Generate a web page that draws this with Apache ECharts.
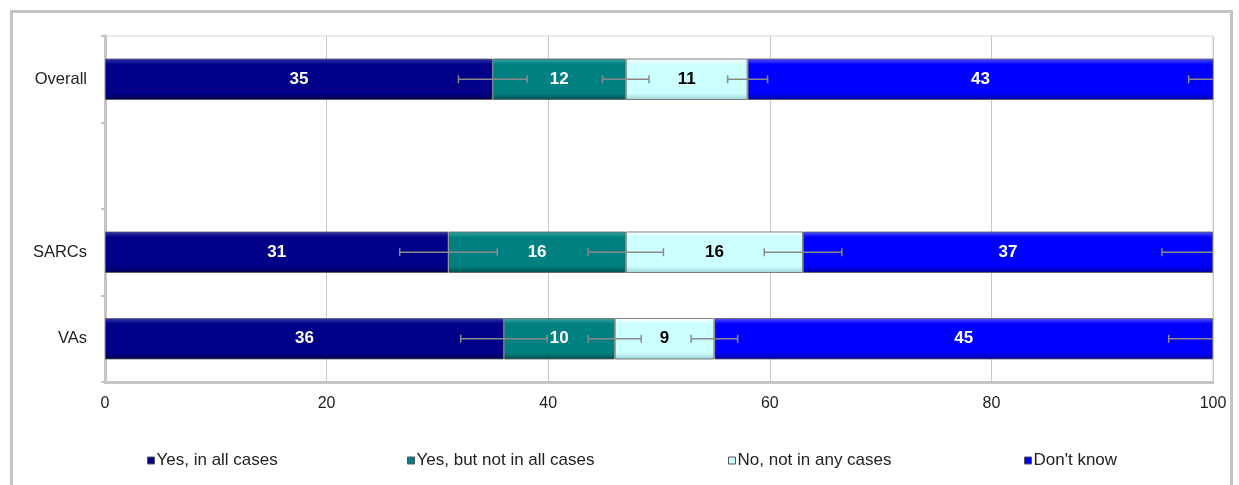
<!DOCTYPE html>
<html>
<head>
<meta charset="utf-8">
<script src="https://cdn.jsdelivr.net/npm/echarts@6/dist/echarts.min.js"></script>
<style>
html,body{margin:0;padding:0;background:#fff;}
#c{width:1239px;height:485px;}
</style>
</head>
<body>
<div id="c"></div>
<script>
const categories = ['Overall', '', 'SARCs', 'VAs'];
const seriesNames = ['Yes, in all cases', 'Yes, but not in all cases', 'No, not in any cases', "Don't know"];
const yesAll   = [35, null, 31, 36];
const yesSome  = [12, null, 16, 10];
const noCases  = [11, null, 16, 9];
const dontKnow = [43, null, 37, 45];
const errYesAll   = [3.1, null, 4.4, 3.9];
const errYesSome  = [2.1, null, 3.4, 2.4];
const errNoCases  = [1.8, null, 3.5, 2.1];
const errDontKnow = [3.2, null, 4.6, 4.0];
const xTicks = [0, 20, 40, 60, 80, 100];

const values = [yesAll, yesSome, noCases, dontKnow];
const errs = [errYesAll, errYesSome, errNoCases, errDontKnow];
const FONT = 'Liberation Sans, Arial, sans-serif';

function grad(top, base, bottom) {
  return new echarts.graphic.LinearGradient(0, 0, 0, 1, [
    {offset: 0, color: top},
    {offset: 0.14, color: base},
    {offset: 0.84, color: base},
    {offset: 1, color: bottom}
  ]);
}
const fills = [
  grad('#3a3ab0', '#000088', '#00004a'),
  grad('#3fa8a8', '#008080', '#004d4d'),
  grad('#ffffff', '#ccffff', '#9ccfcf'),
  grad('#5a5aff', '#0000ff', '#00009a')
];
const legendColors = ['#000080', '#008080', '#ccffff', '#0000ff'];
const labelColors = ['#fff', '#fff', '#000', '#fff'];

const series = [];
values.forEach((vals, i) => {
  series.push({
    name: seriesNames[i],
    type: 'bar',
    stack: 'total',
    barWidth: '48%',
    data: vals,
    itemStyle: {color: fills[i], borderColor: 'rgba(90,90,90,0.75)', borderWidth: 1},
    label: {
      show: true, position: 'inside', color: labelColors[i],
      fontFamily: FONT, fontWeight: 'bold', fontSize: 17
    },
    emphasis: {disabled: true}
  });
});

// error bars
values.forEach((vals, i) => {
  const data = [];
  vals.forEach((v, c) => {
    if (v == null) return;
    let cum = 0;
    for (let k = 0; k <= i; k++) cum += values[k][c];
    data.push([cum, c, errs[i][c]]);
  });
  series.push({
    type: 'custom',
    clip: true,
    z: 10,
    silent: true,
    data: data,
    encode: {x: 0, y: 1},
    renderItem: function (params, api) {
      const x = api.value(0), y = api.value(1), e = api.value(2);
      const p1 = api.coord([x - e, y]);
      const p2 = api.coord([x + e, y]);
      const h = 4;
      const st = {stroke: '#8a8a8a', lineWidth: 1.5};
      return {
        type: 'group',
        children: [
          {type: 'line', shape: {x1: p1[0], y1: p1[1], x2: p2[0], y2: p2[1]}, style: st},
          {type: 'line', shape: {x1: p1[0], y1: p1[1] - h, x2: p1[0], y2: p1[1] + h}, style: st},
          {type: 'line', shape: {x1: p2[0], y1: p2[1] - h, x2: p2[0], y2: p2[1] + h}, style: st}
        ]
      };
    }
  });
});

const legendLefts = [142, 402, 723, 1019];
const legends = seriesNames.map((n, i) => ({
  left: legendLefts[i], top: 447,
  data: [{name: n, itemStyle: {color: legendColors[i], borderColor: '#555', borderWidth: 1}}],
  icon: 'rect', itemWidth: 7, itemHeight: 7, itemGap: 2,
  textStyle: {fontFamily: FONT, fontSize: 17, color: '#222', padding: [0, 0, 0, -3]},
  selectedMode: false
}));

const chart = echarts.init(document.getElementById('c'), null, {renderer: 'canvas'});
chart.setOption({
  animation: false,
  backgroundColor: '#fff',
  graphic: [{
    type: 'rect', left: 9, top: 9, z: -1,
    shape: {width: 1220, height: 500},
    style: {fill: 'none', stroke: '#c4c4c4', lineWidth: 3}
  }],
  grid: {left: 105, right: 26, top: 36, bottom: 103, show: true, borderColor: '#d4d4d4', borderWidth: 1},
  legend: legends,
  xAxis: {
    type: 'value', min: 0, max: 100, interval: 20,
    axisLine: {show: true, lineStyle: {color: '#c4c4c4', width: 3}},
    axisTick: {show: false},
    splitLine: {show: true, lineStyle: {color: '#c8c8c8', width: 1}},
    axisLabel: {
      margin: 14, color: '#222', fontSize: 16, fontFamily: FONT,
      formatter: function (v) { return xTicks.indexOf(v) >= 0 ? String(v) : ''; }
    }
  },
  yAxis: {
    type: 'category', inverse: true, data: categories,
    axisLine: {show: true, lineStyle: {color: '#c4c4c4', width: 3}},
    axisTick: {show: true, length: 4, lineStyle: {color: '#c4c4c4', width: 2}},
    axisLabel: {margin: 18, color: '#222', fontSize: 16.5, fontFamily: FONT},
    splitLine: {show: false}
  },
  series: series
});
</script>
</body>
</html>
